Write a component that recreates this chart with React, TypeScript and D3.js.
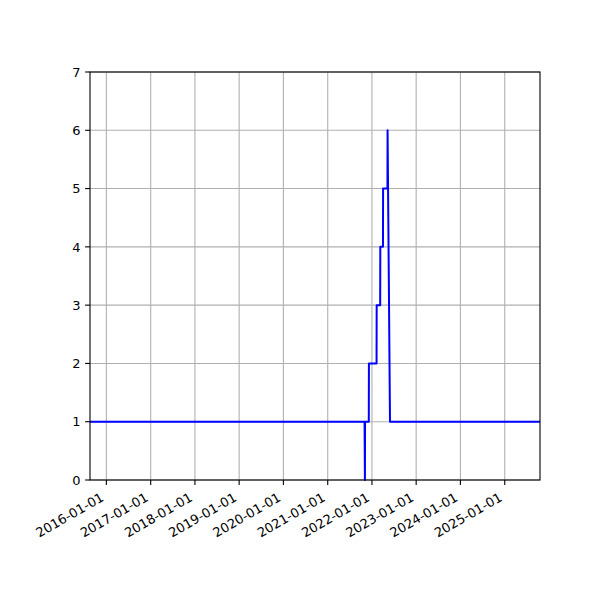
import React from "react";
import * as d3 from "d3";

const dates = [
  "2015-08-19", "2021-11-01", "2021-11-04", "2021-11-05", "2021-12-06", "2021-12-07",
  "2022-02-08", "2022-02-09", "2022-03-10", "2022-03-11", "2022-04-02", "2022-04-03",
  "2022-05-09", "2022-05-10", "2022-05-30", "2025-10-19",
];
const values = [1, 1, 0, 1, 1, 2, 2, 3, 3, 4, 4, 5, 5, 6, 1, 1];
const xTickYears = [2016, 2017, 2018, 2019, 2020, 2021, 2022, 2023, 2024, 2025];
const yTicks = [0, 1, 2, 3, 4, 5, 6, 7];
const xDomain = ["2015-08-19", "2025-10-19"];

const W = 600, H = 600;
const L = 90, R = 540, T = 72, B = 480;

export default function App() {
  const parse = d3.utcParse("%Y-%m-%d");
  const x = d3.scaleUtc().domain(xDomain.map((d) => parse(d) as Date)).range([L, R]);
  const y = d3.scaleLinear().domain([0, 7]).range([B, T]);
  const pts = dates.map((d, i) => [x(parse(d) as Date), y(values[i])] as [number, number]);
  const line = d3.line()(pts) || "";
  const xTicks = xTickYears.map((yr) => new Date(Date.UTC(yr, 0, 1)));
  const fmt = d3.utcFormat("%Y-%m-%d");
  const font = "DejaVu Sans, sans-serif";
  return (
    <div style={{ position: "absolute", left: 0, top: 0 }}>
      <svg width={W} height={H} viewBox={`0 0 ${W} ${H}`} style={{ display: "block", background: "#fff" }}>
        <rect width={W} height={H} fill="#fff" />
        {xTicks.map((d, i) => (
          <line key={"gx" + i} x1={x(d)} x2={x(d)} y1={T} y2={B} stroke="#b0b0b0" strokeWidth={1.1} />
        ))}
        {yTicks.map((v, i) => (
          <line key={"gy" + i} x1={L} x2={R} y1={y(v)} y2={y(v)} stroke="#b0b0b0" strokeWidth={1.1} />
        ))}
        <path d={line} fill="none" stroke="#0000ff" strokeWidth={2} strokeLinejoin="round" />
        <rect x={L} y={T} width={R - L} height={B - T} fill="none" stroke="#000" strokeWidth={1.1} />
        {xTicks.map((d, i) => (
          <g key={"tx" + i}>
            <line x1={x(d)} x2={x(d)} y1={B} y2={B + 4.9} stroke="#000" strokeWidth={1.1} />
            <text
              transform={`translate(${x(d) - 1.6},${B + 20}) rotate(-30)`}
              textAnchor="end"
              fontFamily={font}
              fontSize={13}
              fill="#000"
            >
              {fmt(d)}
            </text>
          </g>
        ))}
        {yTicks.map((v, i) => (
          <g key={"ty" + i}>
            <line x1={L - 4.9} x2={L} y1={y(v)} y2={y(v)} stroke="#000" strokeWidth={1.1} />
            <text x={L - 9.5} y={y(v)} dy="0.36em" textAnchor="end" fontFamily={font} fontSize={13} fill="#000">
              {v}
            </text>
          </g>
        ))}
      </svg>
    </div>
  );
}
